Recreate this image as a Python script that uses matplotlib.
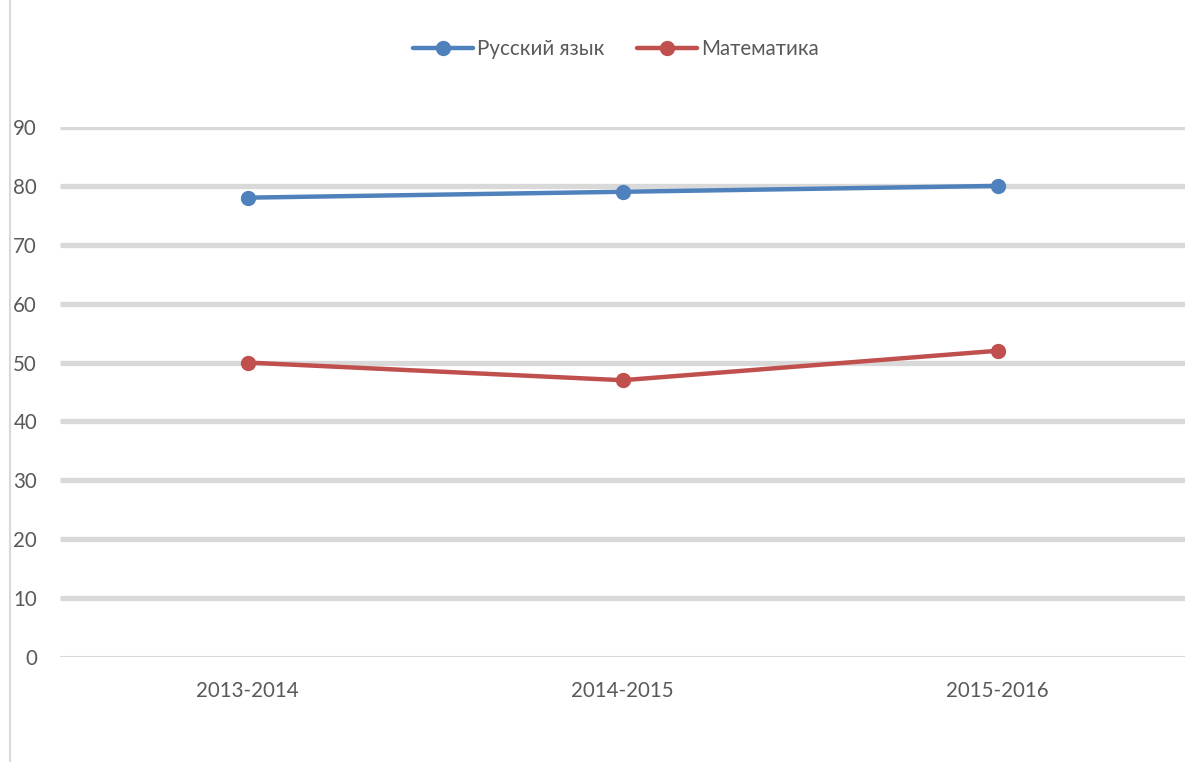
import matplotlib
matplotlib.use("Agg")
import matplotlib.pyplot as plt
from matplotlib.lines import Line2D

categories = ["2013-2014", "2014-2015", "2015-2016"]
russian = [78, 79, 80]
math_vals = [50, 47, 52]
series_names = ["Русский язык", "Математика"]
yticks = [0, 10, 20, 30, 40, 50, 60, 70, 80, 90]

plt.rcParams['font.family'] = ['Lato', 'DejaVu Sans']

fig = plt.figure(figsize=(11.95, 7.62), dpi=100)
W, H = 1195, 762
ax = fig.add_axes([60 / W, (H - 657) / H, (1185 - 60) / W, (657 - 127) / H])

x = list(range(len(categories)))
blue = "#4f81bd"
red = "#c0504d"
grid = "#d9d9d9"
txt = "#595959"

for yv in yticks[1:]:
    ax.axhline(yv, color=grid, lw=3.8, zorder=1, solid_capstyle='butt')
ax.axhline(0, color=grid, lw=1.5, zorder=1)

ax.plot(x, russian, color=blue, lw=3.2, marker='o', ms=10, label=series_names[0], zorder=3,
        solid_capstyle='round')
ax.plot(x, math_vals, color=red, lw=3.2, marker='o', ms=10, label=series_names[1], zorder=3,
        solid_capstyle='round')

ax.set_xlim(-0.5, 2.5)
ax.set_ylim(0, 90)
ax.set_yticks(yticks)
ax.set_xticks(x)
ax.set_xticklabels(categories)
for s in ax.spines.values():
    s.set_visible(False)
ax.tick_params(axis='both', length=0, colors=txt, labelsize=14.8)
ax.tick_params(axis='y', pad=16.5)
ax.tick_params(axis='x', pad=17)
ax.patch.set_alpha(0)

leg = fig.legend(loc='center', bbox_to_anchor=(616 / W, (H - 49) / H), ncol=2, frameon=False,
                 fontsize=14.8, handlelength=2.9, handletextpad=0.2, columnspacing=1.6)
for t in leg.get_texts():
    t.set_color(txt)

fig.add_artist(Line2D([10 / W, 10 / W], [0, 1], color=grid, lw=1.5, transform=fig.transFigure))

fig.savefig("out.png", dpi=100)
